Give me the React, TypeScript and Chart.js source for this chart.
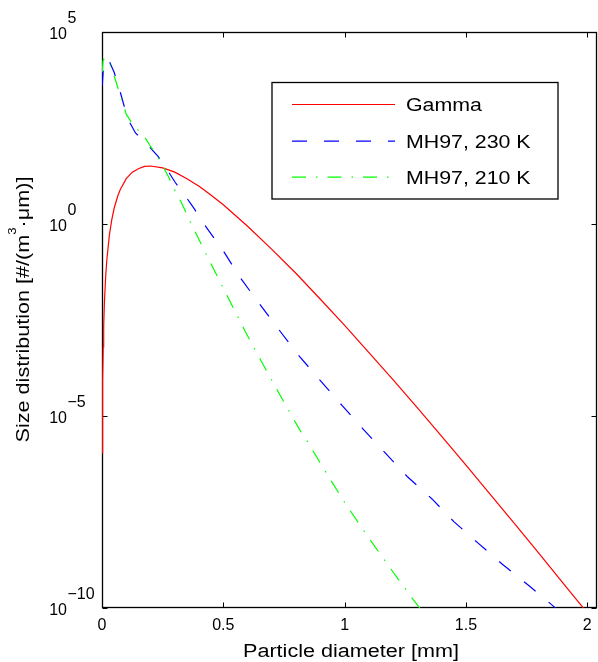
import React, { useEffect, useRef } from "react";
import { Chart, registerables } from "chart.js";

Chart.register(...registerables);

// Particle diameter [mm] and log10 of size distribution [#/(m^3·µm)]
const gammaD = [0.001, 0.002, 0.003, 0.005, 0.007, 0.01, 0.015, 0.02, 0.03, 0.04, 0.05, 0.065, 0.075, 0.1, 0.125, 0.15, 0.175, 0.2, 0.25, 0.3, 0.35, 0.4, 0.45, 0.5, 0.6, 0.7, 0.8, 0.9, 1.0, 1.1, 1.2, 1.3, 1.4, 1.5, 1.6, 1.7, 1.8, 1.9, 1.98, 2.0];
const gammaLog = [-5.97, -4.77, -4.08, -3.2, -2.64, -2.04, -1.38, -0.93, -0.31, 0.1, 0.41, 0.73, 0.89, 1.18, 1.35, 1.44, 1.5, 1.51, 1.46, 1.35, 1.18, 0.98, 0.75, 0.5, -0.06, -0.66, -1.29, -1.96, -2.64, -3.35, -4.06, -4.79, -5.53, -6.28, -7.04, -7.8, -8.57, -9.35, -9.97, -10.13];

const mh230D = [0.001, 0.005, 0.01, 0.02, 0.03, 0.05, 0.07, 0.087, 0.107, 0.138, 0.19, 0.231, 0.272, 0.3, 0.348, 0.382, 0.42, 0.5, 0.57, 0.65, 0.73, 0.81, 0.9, 0.99, 1.08, 1.17, 1.26, 1.36, 1.45, 1.55, 1.65, 1.76, 1.86, 1.9];
const mh230Log = [3.6, 4.0, 4.18, 4.3, 4.24, 3.95, 3.55, 3.17, 2.73, 2.37, 2.05, 1.76, 1.38, 1.1, 0.69, 0.38, 0.0, -0.7, -1.4, -2.09, -2.76, -3.42, -4.08, -4.73, -5.37, -5.98, -6.59, -7.16, -7.75, -8.31, -8.86, -9.42, -9.95, -10.2];

const mh210D = [0.001, 0.004, 0.01, 0.02, 0.03, 0.052, 0.075, 0.1, 0.132, 0.169, 0.197, 0.231, 0.275, 0.304, 0.327, 0.348, 0.375, 0.447, 0.52, 0.593, 0.67, 0.749, 0.815, 0.856, 0.914, 1.0, 1.09, 1.183, 1.28, 1.31];
const mh210Log = [3.95, 4.25, 4.32, 4.3, 4.2, 3.82, 3.35, 2.86, 2.54, 2.33, 2.05, 1.74, 1.22, 0.82, 0.56, 0.27, -0.09, -1.01, -1.92, -2.83, -3.73, -4.63, -5.36, -5.76, -6.38, -7.25, -8.09, -8.92, -9.76, -10.0];

const seriesNames = ["Gamma", "MH97, 230 K", "MH97, 210 K"];
const seriesColors = ["#ff0000", "#0000ff", "#00ff00"];
const seriesDash = [[], [15, 17], [14, 10, 1.5, 10]];

const xTicks = [0, 0.5, 1, 1.5, 2];
const xTickLabels = ["0", "0.5", "1", "1.5", "2"];
const yTickExps = [-10, -5, 0, 5];
const yTickExpLabels = ["\u221210", "\u22125", "0", "5"];

const xTitle = "Particle diameter [mm]";
const yTitleA = "Size distribution [#/(m";
const yTitleSup = "3";
const yTitleB = "\u00B7\u03BCm)]";

const FONT = '"Liberation Sans", Arial, Helvetica, sans-serif';

export default function App() {
  const ref = useRef<HTMLCanvasElement>(null);

  useEffect(() => {
    const canvas = ref.current;
    if (!canvas) return;

    const toPts = (d: number[], l: number[]) => d.map((x, i) => ({ x, y: Math.pow(10, l[i]) }));

    const frame = {
      id: "frame",
      beforeDatasetsDraw(chart: any) {
        const { ctx, chartArea: a, scales } = chart;
        const xs = scales.x;
        const ys = scales.y;
        ctx.save();
        ctx.strokeStyle = "#000";
        ctx.lineWidth = 1.3;
        ctx.setLineDash([]);
        const L = a.left + 0.5, R = a.right - 0.5, T = a.top + 0.5, B = a.bottom - 0.5;
        ctx.strokeRect(L, T, R - L, B - T);
        const tl = 5;
        ctx.lineWidth = 1;
        ctx.beginPath();
        xTicks.forEach((v) => {
          const px = Math.round(xs.getPixelForValue(v)) + 0.5;
          ctx.moveTo(px, B); ctx.lineTo(px, B - tl);
          ctx.moveTo(px, T); ctx.lineTo(px, T + tl);
        });
        yTickExps.forEach((e) => {
          const py = Math.round(ys.getPixelForValue(Math.pow(10, e))) + 0.5;
          ctx.moveTo(L, py); ctx.lineTo(L + tl, py);
          ctx.moveTo(R, py); ctx.lineTo(R - tl, py);
        });
        ctx.stroke();
        ctx.restore();
      },
      afterDraw(chart: any) {
        const { ctx, scales } = chart;
        const xs = scales.x;
        const ys = scales.y;
        ctx.save();
        ctx.fillStyle = "#000";
        ctx.setLineDash([]);

        // x tick labels
        ctx.font = `16px ${FONT}`;
        ctx.textAlign = "center";
        ctx.textBaseline = "alphabetic";
        xTicks.forEach((v, i) => {
          ctx.fillText(xTickLabels[i], xs.getPixelForValue(v), 630);
        });

        // y tick labels: 10 with superscript exponent
        yTickExps.forEach((e, i) => {
          const py = ys.getPixelForValue(Math.pow(10, e));
          ctx.font = `16px ${FONT}`;
          ctx.textAlign = "right";
          ctx.fillText("10", 67, py + 7);
          ctx.textAlign = "left";
          ctx.fillText(yTickExpLabels[i], 67.5, py - 9);
        });

        // x title
        ctx.save();
        ctx.translate(351, 656.5);
        ctx.scale(1.2, 1);
        ctx.font = `18px ${FONT}`;
        ctx.textAlign = "center";
        ctx.fillText(xTitle, 0, 0);
        ctx.restore();

        // y title (rotated)
        ctx.save();
        ctx.translate(28.5, 309.5);
        ctx.rotate(-Math.PI / 2);
        ctx.scale(1.2, 1);
        ctx.textAlign = "left";
        ctx.font = `18px ${FONT}`;
        const wA = ctx.measureText(yTitleA).width;
        const wB = ctx.measureText(yTitleB).width;
        ctx.font = `11px ${FONT}`;
        const wS = ctx.measureText(yTitleSup).width;
        const total = wA + wS + wB;
        let x0 = -total / 2;
        ctx.font = `18px ${FONT}`;
        ctx.fillText(yTitleA, x0, 0);
        x0 += wA;
        ctx.font = `11px ${FONT}`;
        ctx.fillText(yTitleSup, x0, -13);
        x0 += wS;
        ctx.font = `18px ${FONT}`;
        ctx.fillText(yTitleB, x0, 0);
        ctx.restore();

        // legend
        const lx = 272, ly = 82.5, lw = 286, lh = 116.5;
        ctx.fillStyle = "#fff";
        ctx.fillRect(lx, ly, lw, lh);
        ctx.strokeStyle = "#000";
        ctx.lineWidth = 1.3;
        ctx.strokeRect(lx, ly, lw, lh);
        const rowY = [104, 140.7, 176.7];
        seriesNames.forEach((name, i) => {
          ctx.strokeStyle = seriesColors[i];
          ctx.lineWidth = 1.2;
          ctx.setLineDash(seriesDash[i]);
          ctx.beginPath();
          ctx.moveTo(292, rowY[i] + 0.5);
          ctx.lineTo(395, rowY[i] + 0.5);
          ctx.stroke();
          ctx.setLineDash([]);
          ctx.save();
          ctx.translate(406, rowY[i] + 7.3);
          ctx.scale(1.22, 1);
          ctx.fillStyle = "#000";
          ctx.font = `17.5px ${FONT}`;
          ctx.textAlign = "left";
          ctx.fillText(name, 0, 0);
          ctx.restore();
        });
        ctx.restore();
      },
    };

    const dataSets = [
      toPts(gammaD, gammaLog),
      toPts(mh230D, mh230Log),
      toPts(mh210D, mh210Log),
    ];

    const chart = new Chart(canvas, {
      type: "scatter",
      data: {
        datasets: dataSets.map((pts, i) => ({
          label: seriesNames[i],
          data: pts,
          showLine: true,
          borderColor: seriesColors[i],
          backgroundColor: seriesColors[i],
          borderWidth: 1.2,
          borderDash: seriesDash[i],
          pointRadius: 0,
          tension: 0,
          order: 3 - i,
        })),
      },
      options: {
        animation: false,
        responsive: false,
        maintainAspectRatio: false,
        layout: { padding: { left: 102, right: 1, top: 32, bottom: 54 } },
        plugins: {
          legend: { display: false },
          tooltip: { enabled: false },
          title: { display: false },
        },
        scales: {
          x: {
            type: "linear",
            min: 0,
            max: 2.04,
            ticks: { display: false },
            grid: { display: false, drawTicks: false },
            border: { display: false },
            title: { display: false },
          },
          y: {
            type: "logarithmic",
            min: 1e-10,
            max: 1e5,
            ticks: { display: false },
            grid: { display: false, drawTicks: false },
            border: { display: false },
            title: { display: false },
          },
        },
      },
      plugins: [frame],
    });

    return () => chart.destroy();
  }, []);

  return (
    <div style={{ position: "absolute", left: 0, top: 0, width: 598, height: 662, background: "#fff" }}>
      <canvas ref={ref} width={598} height={662} style={{ width: 598, height: 662, display: "block" }} />
    </div>
  );
}
